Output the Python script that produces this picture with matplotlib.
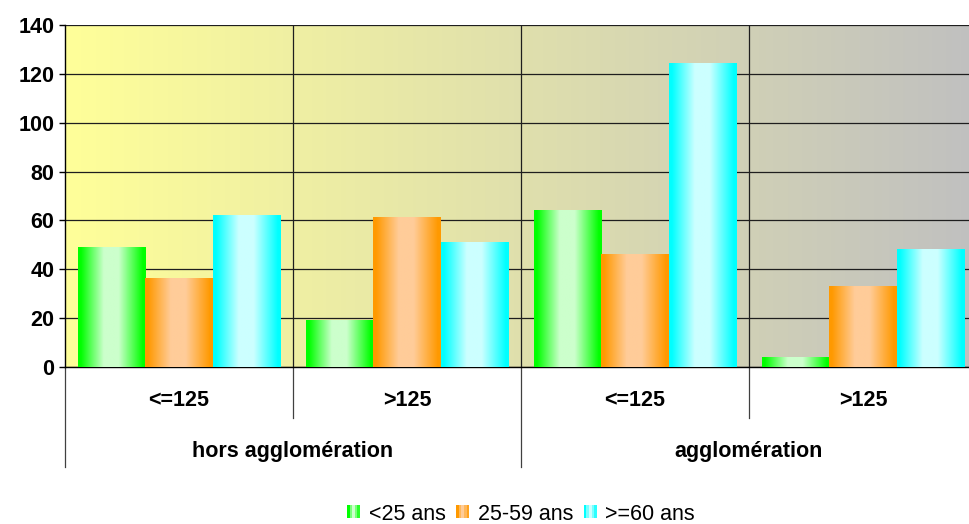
import numpy as np
import matplotlib
matplotlib.use("Agg")
import matplotlib.pyplot as plt
from matplotlib.patches import Rectangle
from matplotlib.legend_handler import HandlerBase
from matplotlib.transforms import blended_transform_factory

plt.rcParams['font.family'] = ['Liberation Sans', 'DejaVu Sans']

# --- data -------------------------------------------------------------
speed_labels = ['<=125', '>125', '<=125', '>125']
zone_labels = ['hors agglomération', 'agglomération']
series_names = ['<25 ans', '25-59 ans', '>=60 ans']
under_25 = [49, 19, 64, 4]
age_25_59 = [36, 61, 46, 33]
over_60 = [62, 51, 124, 48]
y_ticks = [0, 20, 40, 60, 80, 100, 120, 140]

series_values = [under_25, age_25_59, over_60]
edge_colors = [(0.0, 1.0, 0.0), (1.0, 0.6, 0.0), (0.0, 1.0, 1.0)]
light_colors = [(0.8, 1.0, 0.8), (1.0, 0.8, 0.6), (0.8, 1.0, 1.0)]


def bar_gradient(edge, light, n=96):
    t = np.linspace(0, 1, n)
    w = np.interp(t, [0, 0.04, 0.38, 0.6, 0.96, 1], [0, 0, 1, 1, 0, 0])
    e = np.array(edge)
    li = np.array(light)
    rgb = e[None, :] * (1 - w[:, None]) + li[None, :] * w[:, None]
    return rgb[None, :, :]


fig = plt.figure(figsize=(9.7, 5.24), dpi=100)
ax = fig.add_axes([65 / 970, (524 - 367.3) / 524, 912 / 970, 342.6 / 524])

# plot-area background: yellow to grey horizontal gradient
t = np.linspace(0, 1, 256)
c0 = np.array([255, 255, 153]) / 255
c1 = np.array([192, 192, 192]) / 255
bg = (c0[None, :] * (1 - t[:, None]) + c1[None, :] * t[:, None])[None, :, :]
ax.imshow(bg, extent=(0, 1, 0, 1), transform=ax.transAxes, aspect='auto',
          zorder=0, interpolation='bilinear')

x = np.arange(len(speed_labels))
width = 0.294
offsets = [-width, 0, width]
for vals, off, ec, lc in zip(series_values, offsets, edge_colors, light_colors):
    bars = ax.bar(x + off, vals, width, color='none', edgecolor='none', zorder=3)
    grad = bar_gradient(ec, lc)
    for p in bars:
        ax.imshow(grad, extent=(p.get_x(), p.get_x() + p.get_width(), 0, p.get_height()),
                  aspect='auto', zorder=3, interpolation='bilinear')

ax.set_xlim(-0.5, len(speed_labels) - 0.5)
ax.set_ylim(0, 140)
ax.set_yticks(y_ticks)
ax.set_yticklabels([str(v) for v in y_ticks], fontsize=15.5, fontweight='bold')
ax.tick_params(axis='y', length=4.5, width=1, pad=3, color='black')
ax.set_xticks([])

ax.set_axisbelow(True)
ax.yaxis.grid(True, color='#1e1e1e', linewidth=0.9)
for xd in [0.5, 1.5, 2.5]:
    ax.axvline(xd, color='#1e1e1e', linewidth=0.9, zorder=1)

for s in ['top', 'right']:
    ax.spines[s].set_visible(False)
ax.spines['left'].set_color('black')
ax.spines['bottom'].set_color('black')
ax.spines['left'].set_linewidth(1)
ax.spines['bottom'].set_linewidth(1)

# two-level category axis below the plot
tr = blended_transform_factory(ax.transData, ax.transAxes)
ax_h = 342.6
y_inner = -(418 - 367.3) / ax_h
y_outer = -(467 - 367.3) / ax_h
for xd in [0.5, 2.5]:
    ax.plot([xd, xd], [0, y_inner], transform=tr, color='#404040', lw=0.9, clip_on=False)
for xd in [-0.5, 1.5]:
    ax.plot([xd, xd], [0, y_outer], transform=tr, color='#404040', lw=0.9, clip_on=False)

y_lab1 = -(400.5 - 367.3) / ax_h
y_lab2 = -(451.5 - 367.3) / ax_h
for xi, lab in zip(x, speed_labels):
    ax.text(xi, y_lab1, lab, transform=tr, ha='center', va='center',
            fontsize=15.5, fontweight='bold')
for gi, lab in enumerate(zone_labels):
    ax.text(2 * gi + 0.5, y_lab2, lab, transform=tr, ha='center', va='center',
            fontsize=15.5, fontweight='bold')


class GradientSwatch:
    def __init__(self, edge, light):
        self.edge = edge
        self.light = light


class HandlerGradientSwatch(HandlerBase):
    def create_artists(self, legend, orig_handle, xdescent, ydescent,
                       width, height, fontsize, trans):
        e = np.array(orig_handle.edge)
        li = np.array(orig_handle.light)
        weights = [0.0, 0.6, 1.0, 0.6, 0.2]
        n = len(weights)
        side = min(width, height * 1.1)
        x0 = -xdescent + (width - side) / 2
        y0 = -ydescent + (height - side) / 2
        arts = []
        for i, w in enumerate(weights):
            col = e * (1 - w) + li * w
            r = Rectangle((x0 + i * side / n, y0), side / n, side,
                          facecolor=col, edgecolor='none', transform=trans)
            arts.append(r)
        return arts


handles = [GradientSwatch(e, l) for e, l in zip(edge_colors, light_colors)]
fig.legend(handles, series_names, handler_map={GradientSwatch: HandlerGradientSwatch()},
           loc='center', bbox_to_anchor=(521 / 970, 10 / 524), ncol=3, frameon=False,
           prop={'size': 15.5}, handlelength=0.6, handleheight=0.6,
           handletextpad=0.4, columnspacing=0.5, borderpad=0, borderaxespad=0)

fig.savefig('out.png', dpi=100)
